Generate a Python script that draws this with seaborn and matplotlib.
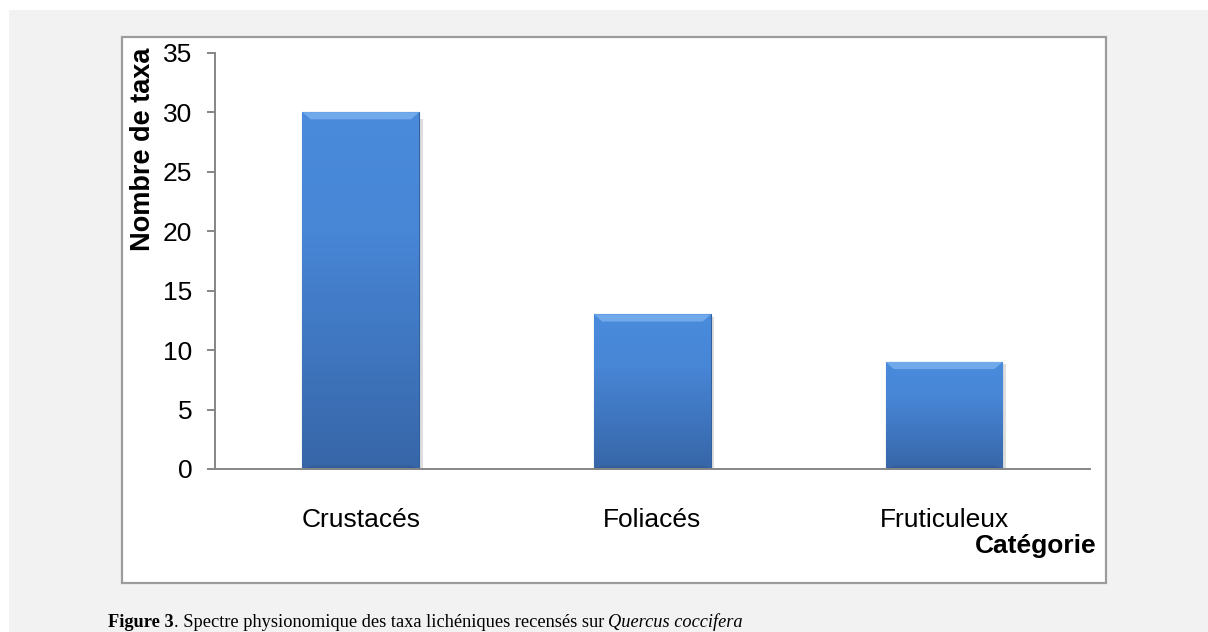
import numpy as np
import pandas as pd
import matplotlib
matplotlib.use("Agg")
import matplotlib.pyplot as plt
import seaborn as sns
from matplotlib.patches import Rectangle, Polygon
from matplotlib.colors import LinearSegmentedColormap

# data
categories = ['Crustacés', 'Foliacés', 'Fruticuleux']
taxa_counts = [30, 13, 9]
y_ticks = [0, 5, 10, 15, 20, 25, 30, 35]

W, H = 1208, 632

sns.set_style("white")
plt.rcParams['font.family'] = ['Liberation Sans', 'DejaVu Sans']

df = pd.DataFrame({'Catégorie': categories, 'Nombre de taxa': taxa_counts})

fig = plt.figure(figsize=(W / 100, H / 100), dpi=100)
fig.patch.set_facecolor('#f2f2f2')

# thin white margins top / left, then the white chart frame
fig.patches.append(Rectangle((0, 1 - 10 / H), 1, 10 / H, transform=fig.transFigure,
                             facecolor='white', edgecolor='none', zorder=-2))
fig.patches.append(Rectangle((0, 0), 9 / W, 1, transform=fig.transFigure,
                             facecolor='white', edgecolor='none', zorder=-2))
fig.patches.append(Rectangle((122 / W, 1 - 583 / H), (1106 - 122) / W, (583 - 37) / H,
                             transform=fig.transFigure, facecolor='white',
                             edgecolor='#9c9c9c', linewidth=1.6, zorder=-1))

ax = fig.add_axes([215 / W, 1 - 469 / H, (1090 - 215) / W, (469 - 52.7) / H])
ax.set_facecolor('none')

sns.barplot(data=df, x='Catégorie', y='Nombre de taxa', ax=ax, color='#4179c2',
            width=0.4, saturation=1, edgecolor='#32609e', linewidth=0.8)

# gradient + bevel on each bar
cmap = LinearSegmentedColormap.from_list('bar', ['#3766a8', '#3f76bf', '#4886d6', '#4a8bdb'])
grad = np.linspace(0, 1, 256).reshape(-1, 1)
for p in ax.patches:
    x0, y0 = p.get_x(), p.get_y()
    w, h = p.get_width(), p.get_height()
    # soft shadow on the right side
    ax.add_patch(Rectangle((x0 + w, y0), w * 0.03, h * 0.98, facecolor='#c9c9c9',
                           edgecolor='none', alpha=0.6, zorder=p.get_zorder() - 0.1))
    im = ax.imshow(grad, extent=[x0, x0 + w, y0, y0 + h], origin='lower', cmap=cmap,
                   aspect='auto', zorder=p.get_zorder() + 0.1)
    im.set_clip_path(p)
    bx = w * 0.07
    by = 0.6
    ax.add_patch(Polygon([[x0, y0 + h], [x0 + w, y0 + h], [x0 + w - bx, y0 + h - by],
                          [x0 + bx, y0 + h - by]], closed=True, facecolor='#79b0ef',
                         edgecolor='none', alpha=0.85, zorder=p.get_zorder() + 0.2))
    ax.add_patch(Polygon([[x0, y0], [x0 + w, y0], [x0 + w - bx, y0 + by * 0.5],
                          [x0 + bx, y0 + by * 0.5]], closed=True, facecolor='#2f5990',
                         edgecolor='none', alpha=0.6, zorder=p.get_zorder() + 0.2))

ax.set_ylim(0, 35)
ax.set_xlim(-0.5, 2.5)
ax.set_yticks(y_ticks)
ax.set_yticklabels([str(t) for t in y_ticks])
ax.set_xlabel('')
ax.set_ylabel('')

for side in ['top', 'right']:
    ax.spines[side].set_visible(False)
for side in ['left', 'bottom']:
    ax.spines[side].set_color('#868686')
    ax.spines[side].set_linewidth(1.4)

ax.tick_params(axis='y', length=5.8, width=1.4, color='#868686', pad=10.5,
               labelsize=19, labelcolor='black', left=True)
ax.tick_params(axis='x', length=0, pad=28, labelsize=19, labelcolor='black')

fig.text(143 / W, 1 - 149 / H, 'Nombre de taxa', rotation=90, ha='center', va='center',
         fontsize=19.5, fontweight='bold', color='black')
fig.text(1096 / W, 1 - 546 / H, 'Catégorie', ha='right', va='center',
         fontsize=19, fontweight='bold', color='black')

# caption below the frame
renderer = fig.canvas.get_renderer()
parts = [('Figure 3', 'bold', 'normal'),
         ('. Spectre physionomique des taxa lichéniques recensés sur ', 'normal', 'normal'),
         ('Quercus coccifera', 'normal', 'italic')]
x_px = 108
for txt, wgt, sty in parts:
    t = fig.text(x_px / W, 1 - 627 / H, txt, ha='left', va='baseline', fontsize=13.2,
                 family=['Liberation Serif', 'DejaVu Serif'], fontweight=wgt, fontstyle=sty,
                 color='black')
    x_px = t.get_window_extent(renderer).x1

fig.savefig('out.png', dpi=100, facecolor=fig.get_facecolor())
